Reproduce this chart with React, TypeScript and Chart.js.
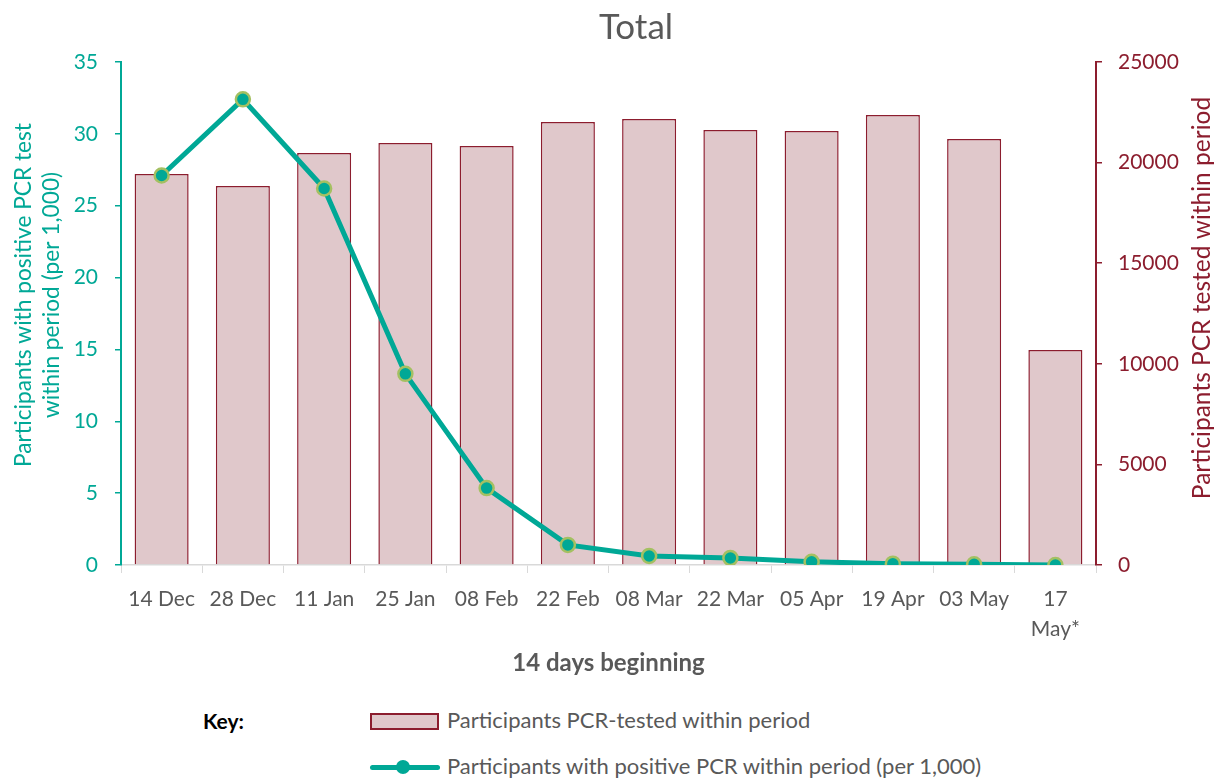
import React, { useEffect, useRef } from "react";
import { Chart, registerables } from "chart.js";

Chart.register(...registerables);

const categories: (string | string[])[] = [
  "14 Dec", "28 Dec", "11 Jan", "25 Jan", "08 Feb", "22 Feb",
  "08 Mar", "22 Mar", "05 Apr", "19 Apr", "03 May", ["17", "May*"],
];
const testedValues = [19430, 18840, 20480, 20970, 20820, 22020, 22170, 21620, 21570, 22370, 21170, 10690];
const positiveRate = [27.1, 32.4, 26.2, 13.3, 5.35, 1.4, 0.63, 0.49, 0.22, 0.09, 0.05, 0.0];
const leftTicks = [0, 5, 10, 15, 20, 25, 30, 35];
const rightTicks = [0, 5000, 10000, 15000, 20000, 25000];

const TEAL = "#00A896";
const MAROON = "#8C1D2E";
const BAR_FILL = "#E0C8CB";
const POINT_BORDER = "#A4C062";
const GRAY = "#595959";
const FONT = "Lato, 'Open Sans', sans-serif";

const axisTitles = {
  id: "axisTitles",
  afterDraw(chart: any) {
    const ctx = chart.ctx;
    ctx.save();
    ctx.font = `35px ${FONT}`;
    ctx.textAlign = "center";
    ctx.textBaseline = "middle";
    ctx.fillStyle = GRAY;
    ctx.fillText("Total", 636, 28);
    ctx.restore();

    ctx.save();
    ctx.font = `22.7px ${FONT}`;
    ctx.textAlign = "center";
    ctx.textBaseline = "middle";
    ctx.fillStyle = TEAL;
    ctx.translate(24, 295);
    ctx.rotate(-Math.PI / 2);
    ctx.fillText("Participants with positive PCR test", 0, 0);
    ctx.fillText("within period (per 1,000)", 0, 28);
    ctx.restore();

    ctx.save();
    ctx.font = `24.5px ${FONT}`;
    ctx.textAlign = "center";
    ctx.textBaseline = "middle";
    ctx.fillStyle = MAROON;
    ctx.translate(1202, 298);
    ctx.rotate(-Math.PI / 2);
    ctx.fillText("Participants PCR tested within period", 0, 0);
    ctx.restore();
  },
};

export default function App() {
  const ref = useRef<HTMLCanvasElement | null>(null);
  useEffect(() => {
    if (!ref.current) return;
    const chart = new Chart(ref.current, {
      type: "bar",
      data: {
        labels: categories as any,
        datasets: [
          {
            type: "line",
            label: "Participants with positive PCR within period (per 1,000)",
            data: positiveRate,
            yAxisID: "y",
            borderColor: TEAL,
            borderWidth: 5,
            pointRadius: 7,
            pointBorderWidth: 2.5,
            pointBackgroundColor: TEAL,
            pointBorderColor: POINT_BORDER,
            tension: 0,
            order: 0,
          } as any,
          {
            type: "bar",
            label: "Participants PCR-tested within period",
            data: testedValues,
            yAxisID: "y1",
            backgroundColor: BAR_FILL,
            borderColor: MAROON,
            borderWidth: 1.5,
            barPercentage: 0.665,
            categoryPercentage: 1,
            order: 1,
          },
        ],
      },
      options: {
        responsive: false,
        animation: false,
        layout: { padding: { top: 62, left: 0, right: 0, bottom: 0 } },
        plugins: {
          legend: { display: false },
          tooltip: { enabled: false },
          title: { display: false },
        },
        scales: {
          x: {
            grid: {
              display: true,
              drawOnChartArea: false,
              drawTicks: true,
              tickLength: 8,
              color: "#D9D9D9",
              offset: true,
            },
            border: { display: true, color: "#D9D9D9", width: 1.5 },
            ticks: {
              color: GRAY,
              font: { family: FONT, size: 21, lineHeight: 1.4 },
              padding: 12,
              maxRotation: 0,
              autoSkip: false,
            },
            title: {
              display: true,
              text: "14 days beginning",
              color: GRAY,
              font: { family: FONT, size: 24, weight: "bold" },
              padding: { top: 0, bottom: 12.6 },
            },
            afterFit(scale: any) {
              scale.height = 125;
            },
          },
          y: {
            position: "left",
            min: 0,
            max: 35,
            afterBuildTicks(scale: any) {
              scale.ticks = leftTicks.map((v) => ({ value: v }));
            },
            grid: {
              display: true,
              drawOnChartArea: false,
              drawTicks: true,
              tickLength: 6,
              color: TEAL,
              lineWidth: 1.5,
            },
            border: { display: true, color: TEAL, width: 2 },
            ticks: {
              color: TEAL,
              font: { family: FONT, size: 21 },
              padding: 17,
            },
            afterFit(scale: any) {
              scale.width = 121;
            },
          },
          y1: {
            position: "right",
            min: 0,
            max: 25000,
            afterBuildTicks(scale: any) {
              scale.ticks = rightTicks.map((v) => ({ value: v }));
            },
            grid: {
              display: true,
              drawOnChartArea: false,
              drawTicks: true,
              tickLength: 6,
              color: MAROON,
              lineWidth: 1.5,
            },
            border: { display: true, color: MAROON, width: 2 },
            ticks: {
              color: MAROON,
              font: { family: FONT, size: 21 },
              padding: 16,
              callback: (v: any) => String(v),
            },
            afterFit(scale: any) {
              scale.width = 120;
            },
          },
        },
      },
      plugins: [axisTitles],
    });
    return () => chart.destroy();
  }, []);

  return (
    <div
      style={{
        position: "absolute",
        left: 0,
        top: 0,
        width: 1216,
        height: 778,
        background: "#fff",
        fontFamily: FONT,
      }}
    >
      <canvas ref={ref} width={1216} height={690} style={{ display: "block" }} />
      <div
        style={{
          position: "absolute",
          left: 203,
          top: 707,
          fontSize: 21,
          fontWeight: "bold",
          color: "#000",
          lineHeight: "28px",
        }}
      >
        Key:
      </div>
      <div
        style={{
          position: "absolute",
          left: 370,
          top: 713,
          width: 65,
          height: 13,
          background: BAR_FILL,
          border: `2px solid ${MAROON}`,
        }}
      />
      <div
        style={{
          position: "absolute",
          left: 447,
          top: 706,
          fontSize: 22,
          color: GRAY,
          lineHeight: "28px",
          whiteSpace: "nowrap",
        }}
      >
        Participants PCR-tested within period
      </div>
      <div
        style={{
          position: "absolute",
          left: 370,
          top: 765,
          width: 70,
          height: 5,
          background: TEAL,
          borderRadius: 3,
        }}
      />
      <div
        style={{
          position: "absolute",
          left: 396,
          top: 760,
          width: 14,
          height: 14,
          background: TEAL,
          borderRadius: "50%",
        }}
      />
      <div
        style={{
          position: "absolute",
          left: 447,
          top: 752,
          fontSize: 22,
          color: GRAY,
          lineHeight: "28px",
          whiteSpace: "nowrap",
        }}
      >
        Participants with positive PCR within period (per 1,000)
      </div>
    </div>
  );
}
